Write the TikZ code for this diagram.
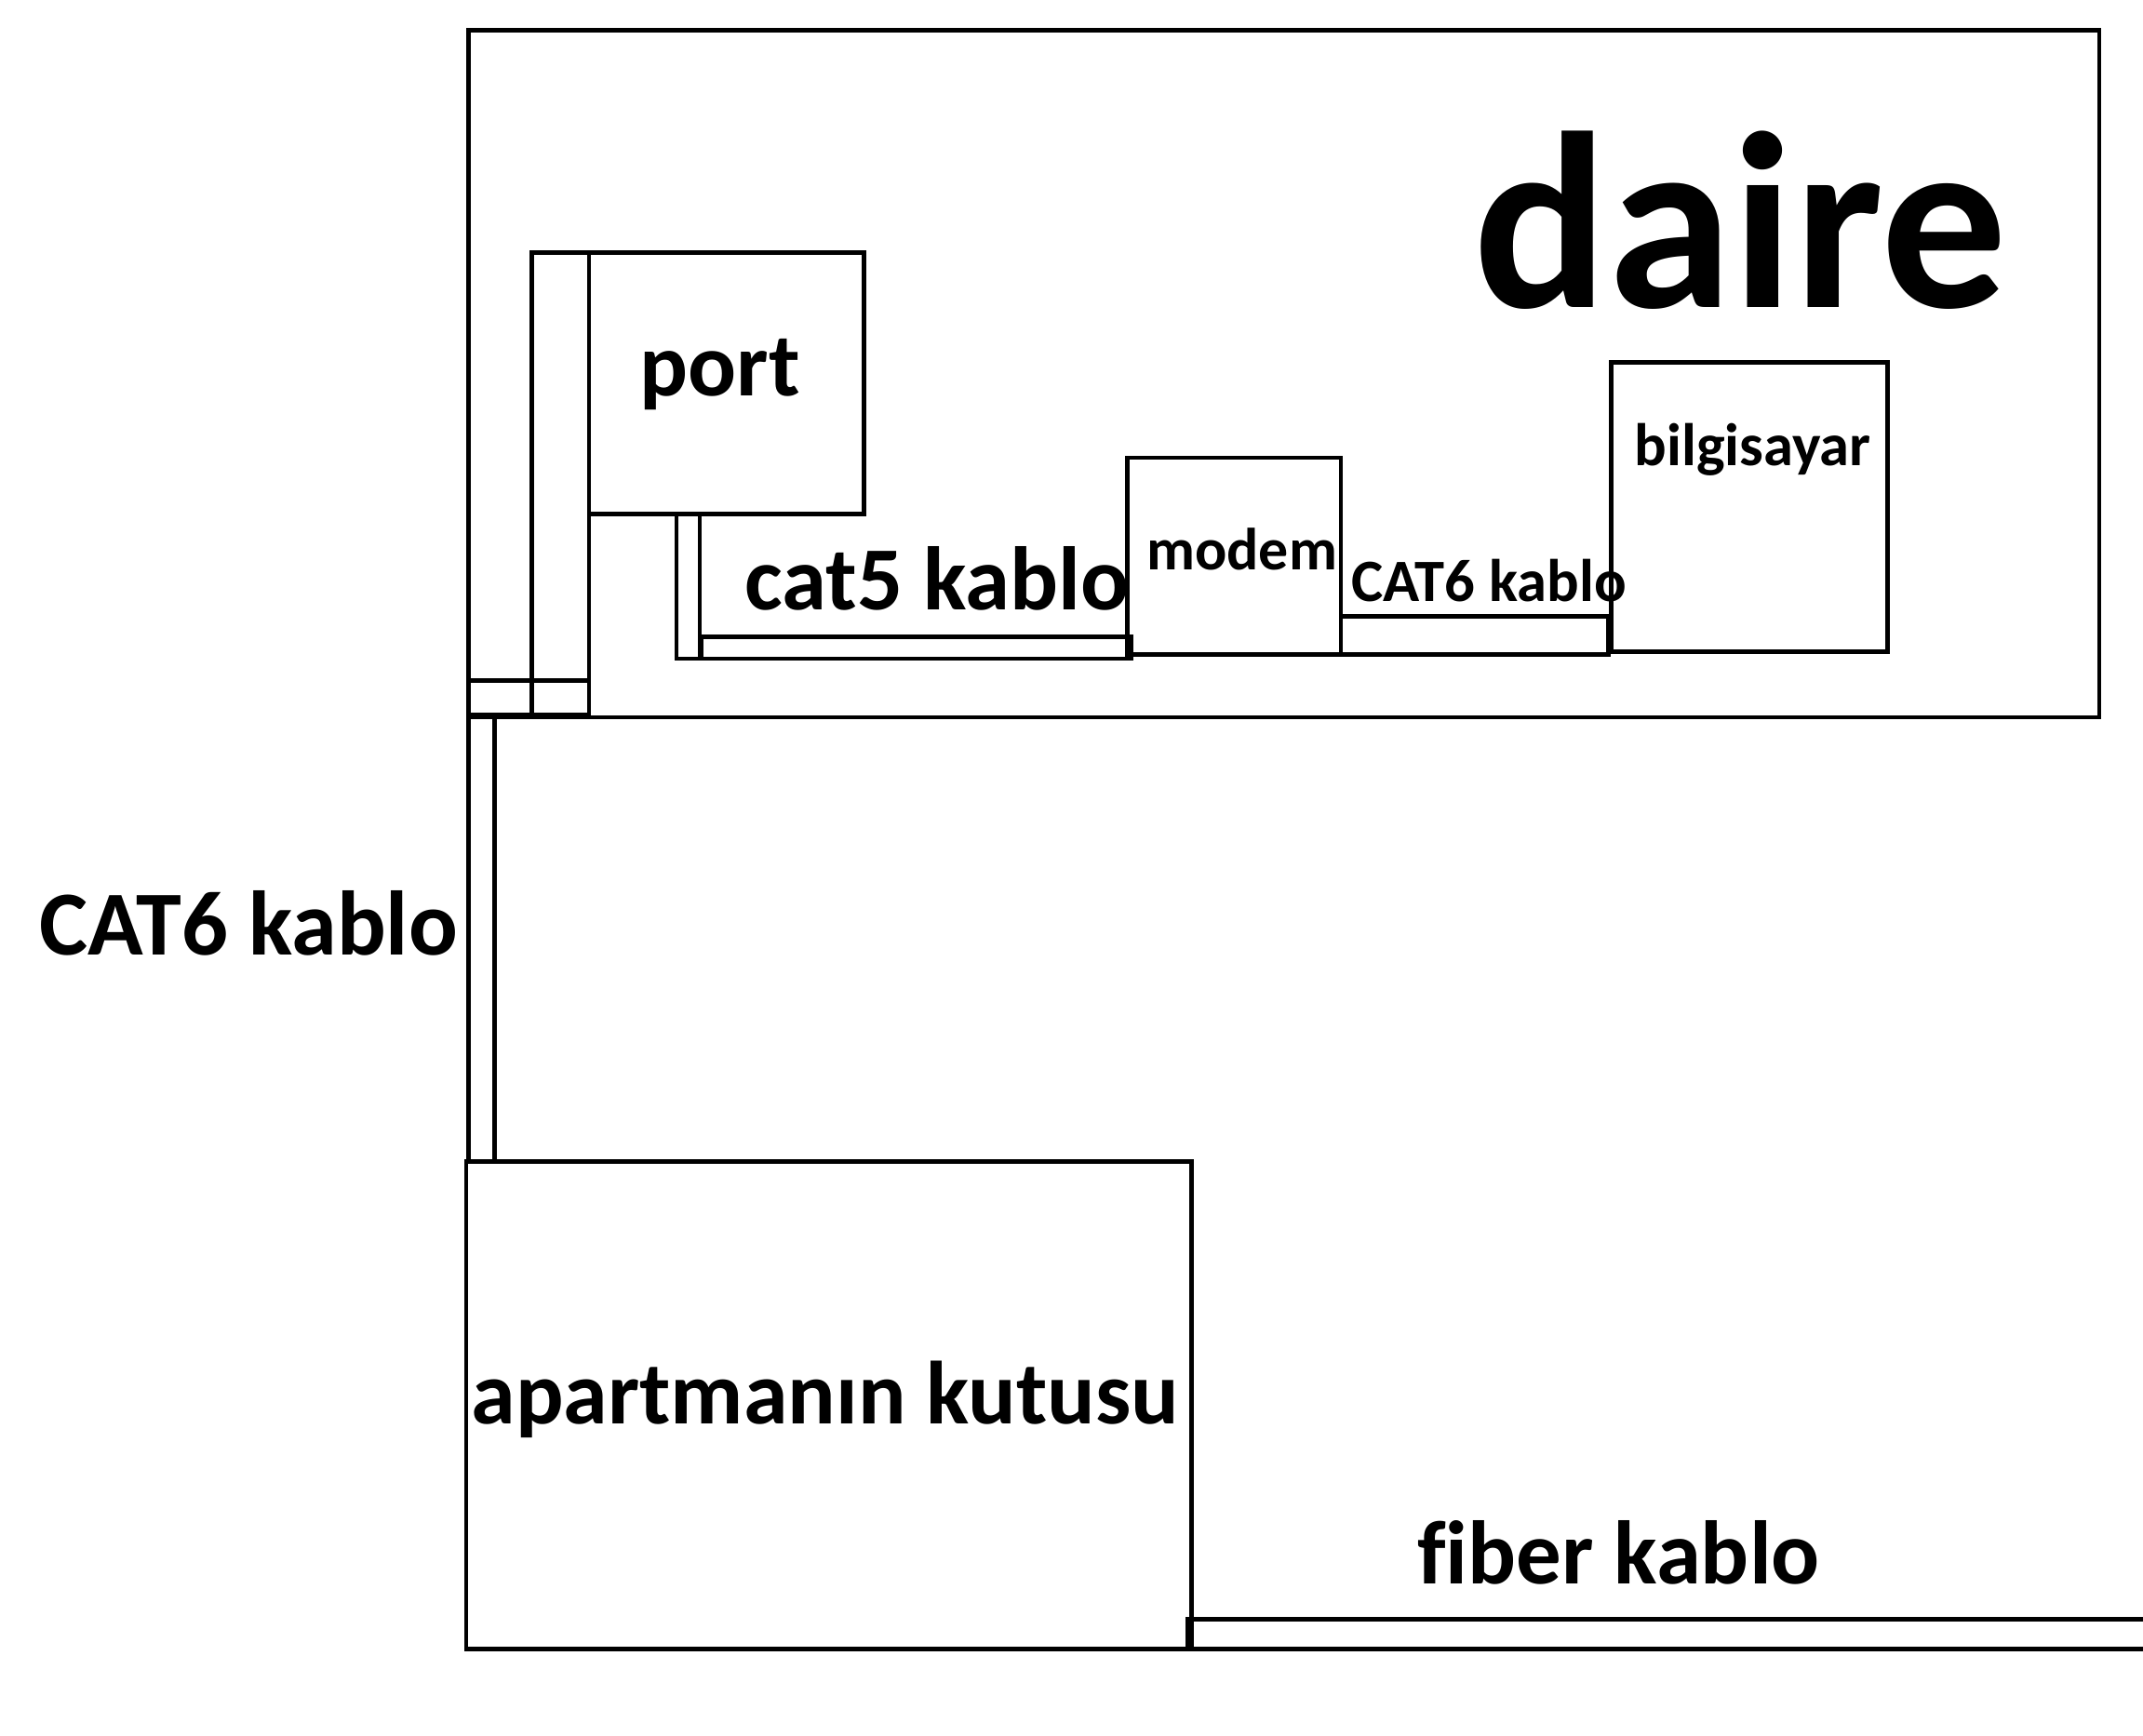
\documentclass[tikz,border=0pt]{standalone}
\usepackage{fontspec}
\setmainfont{Carlito}[Ligatures=NoCommon]
\begin{document}
\begin{tikzpicture}[x=1pt,y=-1pt,
  box/.style={draw, line width=3.2pt, rectangle, inner sep=0pt, outer sep=0pt, anchor=north west},
  cable/.style={draw, line width=3.2pt},
  lbl/.style={inner sep=0pt, outer sep=0pt, anchor=base west}]
\useasboundingbox (0,0) rectangle (1568,1270);
% rooms and devices
\node[box, minimum width=1193pt, minimum height=503pt] (daire) at (343,22) {};
\node[box, minimum width=42pt, minimum height=338pt] (leftcab) at (389,185) {};
\node[box, minimum width=88pt, minimum height=25pt] (leftend) at (343,498) {};
\node[box, minimum width=201pt, minimum height=191pt] (port) at (431,185) {};
\node[box, minimum width=17pt, minimum height=106pt] (cfivev) at (495,376) {};
\node[box, minimum width=315pt, minimum height=16pt] (cfiveh) at (513,466) {};
\node[box, minimum width=156pt, minimum height=144pt] (modem) at (825,335) {};
\node[box, minimum width=196pt, minimum height=28pt] (csixh) at (981,451) {};
\node[box, minimum width=202pt, minimum height=212pt] (pc) at (1179,265) {};
\node[box, minimum width=19pt, minimum height=325pt] (csixv) at (343,525) {};
\node[box, minimum width=531pt, minimum height=357pt] (apt) at (341,850) {};
% fiber cable
\coordinate (fibTL) at (869,1185);
\coordinate (fibTR) at (1568,1185);
\coordinate (fibBR) at (1568,1207);
\draw[cable] (fibTR) -- (fibTL) -- (fibTL |- apt.south) -- (fibBR);
% labels
\node[lbl, font=\fontsize{184}{190}\selectfont\bfseries] (tdaire) at (1078,225) {daire};
\node[lbl, font=\fontsize{66}{70}\selectfont\bfseries] (tport) at (468,290) {port};
\node[lbl, font=\fontsize{66}{70}\selectfont\bfseries] (tcfive) at (545,446) {cat5 kablo};
\node[lbl, font=\fontsize{43.5}{48}\selectfont\bfseries] (tmodem) at (839,417) {modem};
\node[lbl, font=\fontsize{44}{48}\selectfont\bfseries] (tcsixa) at (989,440) {CAT6 kablo};
\node[lbl, font=\fontsize{44}{48}\selectfont\bfseries] (tpc) at (1196,341) {bilgisayar};
\node[lbl, font=\fontsize{67}{70}\selectfont\bfseries] (tcsixb) at (29,699) {CAT6 kablo};
\node[lbl, font=\fontsize{65.5}{70}\selectfont\bfseries] (tapt) at (345,1042) {apartmanın kutusu};
\node[lbl, font=\fontsize{66}{70}\selectfont\bfseries] (tfiber) at (1037,1159) {fiber kablo};
\end{tikzpicture}
\end{document}
